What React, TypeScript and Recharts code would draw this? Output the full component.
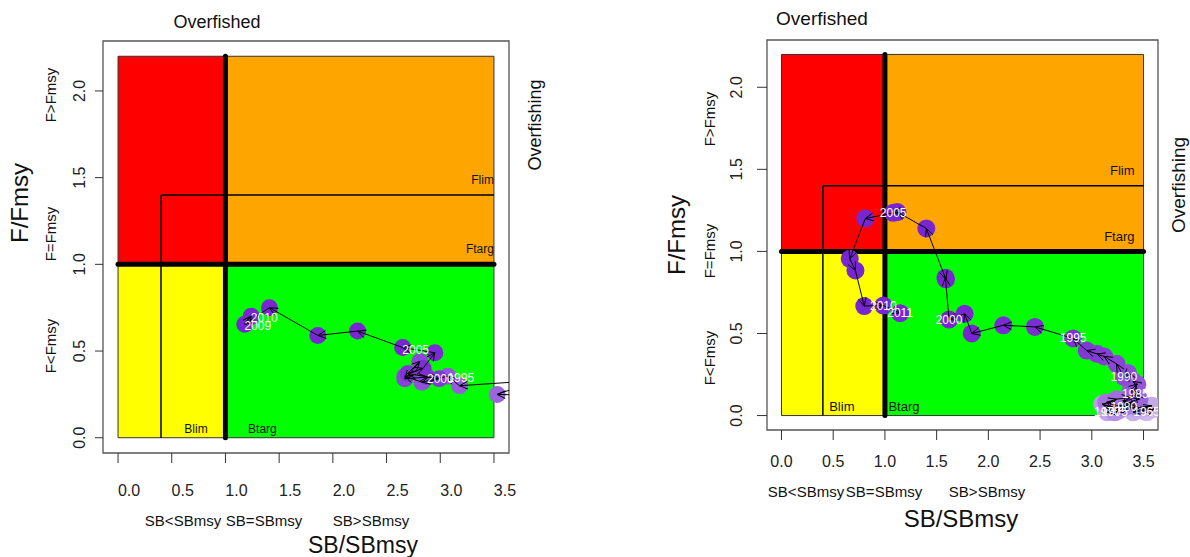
import React from "react";
import {
  ScatterChart,
  Scatter,
  XAxis,
  YAxis,
  ReferenceArea,
  ReferenceLine,
  ReferenceDot,
} from "recharts";

const xTicks = [0, 0.5, 1, 1.5, 2, 2.5, 3, 3.5];
const yTicks = [0, 0.5, 1, 1.5, 2];

// left stock: SB/SBmsy and F/Fmsy by year (early years run off the right edge)
const leftYears = [
  1988, 1989, 1990, 1991, 1992, 1993, 1994, 1995, 1996, 1997, 1998, 1999,
  2000, 2001, 2002, 2003, 2004, 2005, 2006, 2007, 2008, 2009, 2010,
];
const leftSB = [
  4.6, 4.4, 4.3, 4.1, 3.53, 3.9, 3.18, 3.07, 2.83, 2.67, 2.81, 2.67,
  2.88, 2.99, 2.7, 2.84, 2.95, 2.65, 2.23, 1.86, 1.41, 1.18, 1.24,
];
const leftF = [
  0.15, 0.18, 0.2, 0.24, 0.25, 0.33, 0.3, 0.355, 0.32, 0.355, 0.44, 0.34,
  0.35, 0.34, 0.37, 0.4, 0.49, 0.52, 0.615, 0.59, 0.75, 0.655, 0.7,
];

// right stock
const rightYears = [
  1965, 1966, 1967, 1968, 1969, 1970, 1971, 1972, 1973, 1974, 1975, 1976,
  1977, 1978, 1979, 1980, 1981, 1982, 1983, 1984, 1985, 1986, 1987, 1988,
  1989, 1990, 1991, 1992, 1993, 1994, 1995, 1996, 1997, 1998, 1999, 2000,
  2001, 2002, 2003, 2004, 2005, 2006, 2007, 2008, 2009, 2010, 2011,
];
const rightSB = [
  3.53, 3.6, 3.48, 3.4, 3.58, 3.15, 3.22, 3.1, 3.26, 3.36, 3.22, 3.4,
  3.3, 3.44, 3.34, 3.31, 3.14, 3.24, 3.37, 3.46, 3.42, 3.38, 3.44, 3.4,
  3.35, 3.31, 3.24, 3.12, 3.05, 2.95, 2.82, 2.45, 2.145, 1.84, 1.77, 1.62,
  1.585, 1.59, 1.4, 1.12, 1.08, 0.81, 0.66, 0.715, 0.8, 0.985, 1.147,
];
const rightF = [
  0.02, 0.04, 0.03, 0.02, 0.06, 0.02, 0.05, 0.07, 0.03, 0.06, 0.02, 0.07,
  0.09, 0.05, 0.08, 0.05, 0.08, 0.1, 0.11, 0.1, 0.13, 0.16, 0.19, 0.21,
  0.26, 0.235, 0.315, 0.36, 0.376, 0.396, 0.47, 0.54, 0.55, 0.5, 0.62, 0.585,
  0.84, 0.83, 1.14, 1.24, 1.235, 1.2, 0.955, 0.884, 0.667, 0.67, 0.624,
];

// reference points
const bLim = 0.4;
const bTarg = 1;
const fLim = 1.4;
const fTarg = 1;
const sbMax = 3.5;
const fMax = 2.2;

const X_DOMAIN = [-0.14, 3.64];
const Y_DOMAIN = [-0.088, 2.288];
const FONT = "'Liberation Sans', Arial, sans-serif";

const LIGHT = [206, 188, 236];
const DARK = [120, 38, 210];

function shade(t) {
  const c = LIGHT.map((v, i) => Math.round(v + (DARK[i] - v) * Math.min(1, t)));
  return `rgb(${c[0]},${c[1]},${c[2]})`;
}

function arrowShape(p) {
  const { x1, y1, x2, y2, clipPath } = p;
  const d = Math.hypot(x2 - x1, y2 - y1);
  if (!isFinite(d) || d < 1) return <g />;
  const a = Math.atan2(y2 - y1, x2 - x1);
  const len = 9;
  const w = Math.PI / 7;
  const ax = x2 - len * Math.cos(a - w);
  const ay = y2 - len * Math.sin(a - w);
  const bx = x2 - len * Math.cos(a + w);
  const by = y2 - len * Math.sin(a + w);
  return (
    <g clipPath={clipPath}>
      <line x1={x1} y1={y1} x2={x2} y2={y2} stroke="#000" strokeWidth={1} />
      <polyline points={`${ax},${ay} ${x2},${y2} ${bx},${by}`} fill="none" stroke="#000" strokeWidth={1} />
    </g>
  );
}

function thickShape(p) {
  return (
    <line x1={p.x1} y1={p.y1} x2={p.x2} y2={p.y2} stroke="#000" strokeWidth={5} strokeLinecap="round" />
  );
}

function Kobe(props) {
  const { years, sb, f, left, width, margin, cfg } = props;
  const rows = years.map((year, i) => ({ year, b: sb[i], f: f[i] }));
  const first = years[0];
  const span = years[years.length - 1] - first;
  const last2 = years.slice(-2);
  // R clips text to the plot region, so labels of off-chart years never show
  const isLabelled = (r) =>
    (r.year % 5 === 0 || last2.includes(r.year)) &&
    r.b >= X_DOMAIN[0] && r.b <= X_DOMAIN[1] && r.f >= Y_DOMAIN[0] && r.f <= Y_DOMAIN[1];

  const xTick = (p) => (
    <text x={p.x + cfg.xTickDx} y={p.y + cfg.xTickDy} textAnchor="middle" fontSize={16} fill="#222" fontFamily={FONT}>
      {Number(p.payload.value).toFixed(1)}
    </text>
  );
  const yTick = (p) => (
    <g transform={`translate(${p.x + cfg.yTickDx},${p.y}) rotate(-90)`}>
      <text textAnchor="middle" dominantBaseline="central" fontSize={16} fill="#222" fontFamily={FONT}>
        {Number(p.payload.value).toFixed(1)}
      </text>
    </g>
  );
  const txt = (dx, dy, s, anchor) => (p) => (
    <text x={p.cx + dx} y={p.cy + dy} textAnchor={anchor} dominantBaseline="central" fontSize={cfg.refFont} fill="#111" fontFamily={FONT}>
      {s}
    </text>
  );

  return (
    <div style={{ position: "absolute", left, top: 0 }}>
      <ScatterChart width={width} height={557} margin={margin}>
        <XAxis
          type="number"
          dataKey="b"
          domain={X_DOMAIN}
          ticks={xTicks}
          allowDataOverflow
          height={40}
          axisLine={false}
          tickLine={{ stroke: "#333" }}
          tickSize={10}
          tick={xTick}
          interval={0}
        />
        <YAxis
          type="number"
          dataKey="f"
          domain={Y_DOMAIN}
          ticks={yTicks}
          allowDataOverflow
          width={30}
          axisLine={false}
          tickLine={{ stroke: "#333" }}
          tickSize={cfg.yTickSize}
          tick={yTick}
          interval={0}
        />
        <ReferenceArea x1={X_DOMAIN[0]} x2={X_DOMAIN[1]} y1={Y_DOMAIN[0]} y2={Y_DOMAIN[1]} fill="none" stroke="#555" strokeWidth={1.3} ifOverflow="visible" zIndex={50} />
        <ReferenceArea x1={0} x2={bTarg} y1={fTarg} y2={fMax} fill="#ff0000" fillOpacity={1} stroke="#333" zIndex={100} />
        <ReferenceArea x1={bTarg} x2={sbMax} y1={fTarg} y2={fMax} fill="#ffa500" fillOpacity={1} stroke="#333" zIndex={100} />
        <ReferenceArea x1={0} x2={bTarg} y1={0} y2={fTarg} fill="#ffff00" fillOpacity={1} stroke="#333" zIndex={100} />
        <ReferenceArea x1={bTarg} x2={sbMax} y1={0} y2={fTarg} fill="#00ff00" fillOpacity={1} stroke="#333" zIndex={100} />
        <ReferenceLine segment={[{ x: bLim, y: 0 }, { x: bLim, y: fLim }]} stroke="#000" strokeWidth={1.5} zIndex={200} />
        <ReferenceLine segment={[{ x: bLim, y: fLim }, { x: sbMax, y: fLim }]} stroke="#000" strokeWidth={1.5} zIndex={200} />
        <ReferenceLine segment={[{ x: bTarg, y: 0 }, { x: bTarg, y: fMax }]} shape={thickShape} zIndex={210} />
        <ReferenceLine segment={[{ x: 0, y: fTarg }, { x: sbMax, y: fTarg }]} shape={thickShape} zIndex={210} />
        <ReferenceDot x={sbMax} y={fLim} r={0} shape={txt(cfg.fLabDx, -15, "Flim", "end")} zIndex={220} />
        <ReferenceDot x={sbMax} y={fTarg} r={0} shape={txt(cfg.fLabDx, -15, "Ftarg", "end")} zIndex={220} />
        <ReferenceDot x={bLim} y={0} r={0} shape={txt(cfg.bLimDx, -9, "Blim", "middle")} zIndex={220} />
        <ReferenceDot x={bTarg} y={0} r={0} shape={txt(cfg.bTargDx, -9, "Btarg", "middle")} zIndex={220} />
        <Scatter
          data={rows}
          isAnimationActive={false}
          zIndex={600}
          shape={(p) => (
            <circle
              cx={p.cx}
              cy={p.cy}
              r={cfg.r}
              fill={shade(cfg.rampStart + (1 - cfg.rampStart) * cfg.rampGain * ((p.payload.year - first) / span))}
            />
          )}
        />
        {rows.slice(1).map((r, i) => (
          <ReferenceLine
            key={`arrow-${r.year}`}
            segment={[{ x: rows[i].b, y: rows[i].f }, { x: r.b, y: r.f }]}
            ifOverflow="hidden"
            shape={arrowShape}
            zIndex={650}
          />
        ))}
        <Scatter
          data={rows}
          isAnimationActive={false}
          zIndex={700}
          shape={(p) =>
            isLabelled(p.payload) ? (
              <text
                x={p.cx + cfg.labDx}
                y={p.cy + cfg.labDy}
                textAnchor="middle"
                dominantBaseline="central"
                fontSize={12}
                fill="#fff"
                fontFamily={FONT}
              >
                {p.payload.year}
              </text>
            ) : (
              <g />
            )
          }
        />
      </ScatterChart>
    </div>
  );
}

const V = ({ x, y, size, children }) => (
  <g transform={`translate(${x},${y}) rotate(-90)`}>
    <text textAnchor="middle" dominantBaseline="central" fontSize={size} fill="#111">
      {children}
    </text>
  </g>
);
const H = ({ x, y, size, children }) => (
  <text x={x} y={y} textAnchor="middle" dominantBaseline="central" fontSize={size} fill="#111">
    {children}
  </text>
);

export default function App() {
  return (
    <div style={{ position: "absolute", left: 0, top: 0, width: 1190, height: 557, background: "#fff", fontFamily: FONT }}>
      <Kobe
        years={leftYears}
        sb={leftSB}
        f={leftF}
        left={0}
        width={600}
        margin={{ top: 41, right: 91, bottom: 64, left: 73 }}
        cfg={{ xTickDx: 11, xTickDy: 31, yTickDx: -14, yTickSize: 8, r: 8.5, labDx: 13, labDy: 2, rampStart: 0.45, rampGain: 1.3, refFont: 12, fLabDx: 0, bLimDx: 35, bTargDx: 37 }}
      />
      <Kobe
        years={rightYears}
        sb={rightSB}
        f={rightF}
        left={600}
        width={590}
        margin={{ top: 40, right: 32, bottom: 87, left: 137 }}
        cfg={{ xTickDx: 0, xTickDy: 25, yTickDx: -19, yTickSize: 10, r: 9, labDx: 0, labDy: 0, rampStart: 0, rampGain: 1.4, refFont: 13, fLabDx: -9, bLimDx: 19, bTargDx: 19 }}
      />
      <svg width={1190} height={557} style={{ position: "absolute", left: 0, top: 0, pointerEvents: "none", fontFamily: FONT }}>
        <H x={217} y={22} size={18}>Overfished</H>
        <V x={535} y={125} size={18}>Overfishing</V>
        <V x={19} y={203} size={24}>F/Fmsy</V>
        <V x={50} y={95} size={15}>F&gt;Fmsy</V>
        <V x={50} y={234} size={15}>F=Fmsy</V>
        <V x={50} y={346} size={15}>F&lt;Fmsy</V>
        <H x={183} y={520} size={15}>SB&lt;SBmsy</H>
        <H x={264} y={520} size={15}>SB=SBmsy</H>
        <H x={371} y={520} size={15}>SB&gt;SBmsy</H>
        <H x={363} y={545} size={23}>SB/SBmsy</H>

        <H x={822} y={18} size={19}>Overfished</H>
        <V x={1178} y={185} size={19}>Overfishing</V>
        <V x={676} y={235} size={24}>F/Fmsy</V>
        <V x={709} y={119} size={15}>F&gt;Fmsy</V>
        <V x={709} y={251} size={15}>F=Fmsy</V>
        <V x={709} y={358} size={15}>F&lt;Fmsy</V>
        <H x={806} y={491} size={15}>SB&lt;SBmsy</H>
        <H x={884} y={491} size={15}>SB=SBmsy</H>
        <H x={987} y={491} size={15}>SB&gt;SBmsy</H>
        <H x={961} y={518} size={24}>SB/SBmsy</H>
      </svg>
    </div>
  );
}
